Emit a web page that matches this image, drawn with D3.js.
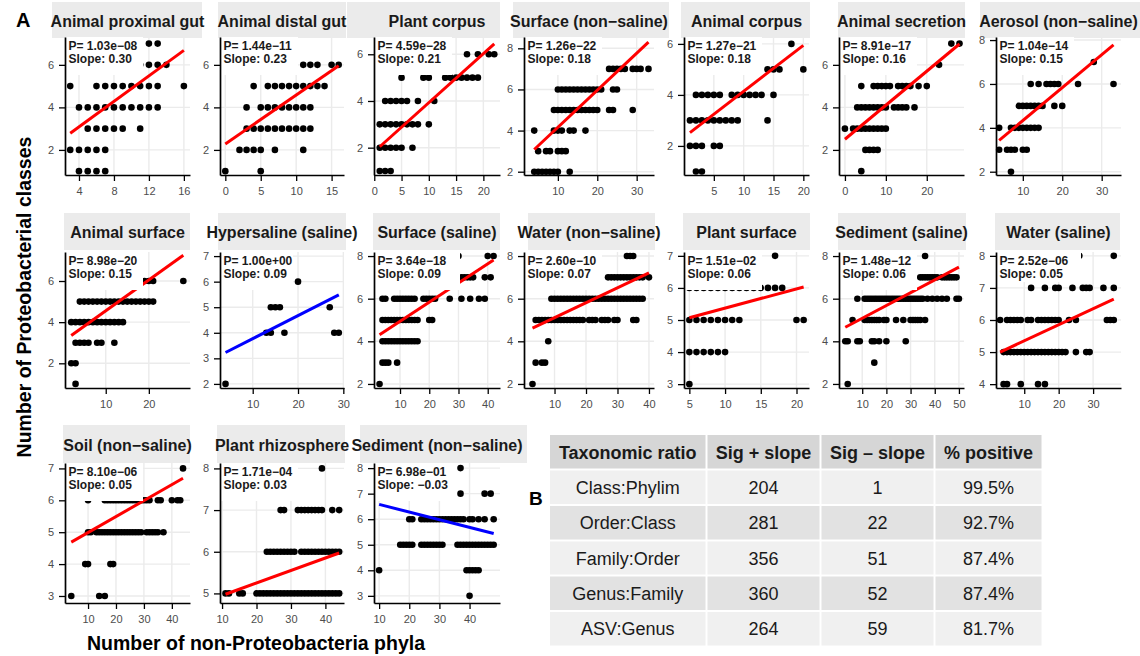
<!DOCTYPE html>
<html>
<head>
<meta charset="utf-8">
<script src="https://cdn.jsdelivr.net/npm/d3@7"></script>
<style>
  html, body { margin: 0; padding: 0; background: #fff; }
  svg { display: block; font-family: "Liberation Sans", Arial, Helvetica, sans-serif; }
</style>
</head>
<body>
<svg id="fig" width="1140" height="656"></svg>
<script>
// ---------- Panel A: one scatter per environment ----------
const panelNames = [
  "Animal proximal gut", "Animal distal gut", "Plant corpus", "Surface (non\u2212saline)",
  "Animal corpus", "Animal secretion", "Aerosol (non\u2212saline)",
  "Animal surface", "Hypersaline (saline)", "Surface (saline)", "Water (non\u2212saline)",
  "Plant surface", "Sediment (saline)", "Water (saline)",
  "Soil (non\u2212saline)", "Plant rhizosphere", "Sediment (non\u2212saline)"
];

const pValues = [
  "1.03e-08", "1.44e-11", "4.59e-28", "1.26e-22", "1.27e-21", "8.91e-17", "1.04e-14",
  "8.98e-20", "1.00e+00", "3.64e-18", "2.60e-10", "1.51e-02", "1.48e-12", "2.52e-06",
  "8.10e-06", "1.71e-04", "6.98e-01"
];

const slopes = [0.30, 0.23, 0.21, 0.18, 0.18, 0.16, 0.15,
                0.15, 0.09, 0.09, 0.07, 0.06, 0.06, 0.05,
                0.05, 0.03, -0.03];

// fitted value of the regression line at the smallest x of each panel
const lineStarts = [2.78, 2.28, 2.04, 3.08, 2.52, 2.50, 3.43,
                    3.35, 3.23, 4.31, 4.62, 5.07, 4.66, 5.00,
                    4.69, 4.98, 6.58];

// axis limits of each panel (the statistics label widens some of them)
const xLimits = [
  [2.4, 16.7], [-0.75, 16.75], [-0.05, 23.05], [1.4, 34.4], [0.0, 20.95], [-1.45, 29.1], [3.2, 34.9],
  [0.55, 29.55], [2.78, 30.15], [1.1, 44.2], [0.3, 41.6], [4.25, 21.75], [0.4, 52.1], [1.8, 38.1],
  [1.75, 46.5], [9.4, 45.4], [8.3, 50.1]
];
const yLimits = [
  [0.82, 7.31], [0.82, 7.31], [0.83, 6.74], [1.84, 8.55], [0.86, 6.27], [0.82, 7.31], [1.85, 8.14],
  [0.80, 7.41], [1.84, 7.16], [1.81, 8.19], [1.81, 8.19], [2.88, 7.12], [1.81, 8.19], [3.88, 8.12],
  [2.78, 7.17], [4.77, 8.13], [2.72, 8.20]
];

const xTicks = [
  [4, 8, 12, 16], [0, 5, 10, 15], [0, 5, 10, 15, 20], [10, 20, 30], [5, 10, 15, 20], [0, 10, 20], [10, 20, 30],
  [10, 20], [10, 20, 30], [10, 20, 30, 40], [10, 20, 30, 40], [5, 10, 15, 20], [10, 20, 30, 40, 50], [10, 20, 30],
  [10, 20, 30, 40], [10, 20, 30, 40], [10, 20, 30, 40]
];
const yTicks = [
  [2, 4, 6], [2, 4, 6], [2, 4, 6], [2, 4, 6, 8], [2, 4, 6], [2, 4, 6], [2, 4, 6, 8],
  [2, 4, 6], [2, 3, 4, 5, 6, 7], [2, 4, 6, 8], [2, 4, 6, 8], [3, 4, 5, 6, 7], [2, 4, 6, 8], [4, 5, 6, 7, 8],
  [3, 4, 5, 6, 7], [5, 6, 7, 8], [3, 4, 5, 6, 7, 8]
];

// observations: [number of Proteobacterial classes, [number of non-Proteobacteria phyla ...]]
const pointRows = [
  // Animal proximal gut
  [[7, [12, 13]], [6, [11, 12, 13, 14]], [5, [3, 6, 7, 8, 9, 10, 11, 12, 13, 16]],
   [4, [4, 5, 6, 7, 8, 9, 10, 11, 12, 13]], [3, [5, 6, 7, 8, 9, 11]], [2, [3, 4, 5, 6, 7]], [1, [4, 5, 6, 7]]],
  // Animal distal gut
  [[6, [11, 12, 13, 15, 16]], [5, [4, 6, 7, 8, 9, 10, 11, 12, 13, 14]], [4, [3, 5, 6, 7, 8, 9, 10, 11, 12]],
   [3, [3, 4, 5, 6, 7, 8, 9, 10, 11, 12]], [2, [2, 3, 4, 5, 7, 11]], [1, [0, 5]]],
  // Plant corpus
  [[6, [17, 19, 21, 22]], [5, [5, 9, 10, 13, 14, 15, 16, 17, 18, 19]], [4, [2, 3, 4, 5, 6, 8, 11]],
   [3, [1, 2, 3, 4, 5, 6, 7, 8, 10]], [2, [1, 2, 3, 4, 5, 7]], [1, [1, 2, 3]]],
  // Surface (non-saline)
  [[7, [23, 24, 25, 26, 27, 29, 30, 31, 33]], [6, [10, 11, 12, 13, 14, 15, 16, 17, 18, 19, 20, 21, 24, 25]],
   [5, [9, 10, 11, 12, 13, 14, 15, 16, 17, 18, 19, 20, 23, 24, 29]], [4, [4, 9, 10, 11, 13, 14, 17]],
   [3, [5, 7, 8, 10, 11, 12]], [2, [4, 5, 6, 7, 8, 9, 10, 13]]],
  // Animal corpus
  [[6, [18]], [5, [14, 15, 16, 20]], [4, [2, 3, 4, 5, 6, 8, 9, 10, 11, 12, 13, 15]],
   [3, [1, 2, 3, 4, 5, 6, 7, 8, 9, 14]], [2, [1, 2, 3, 5, 6]], [1, [2, 3]]],
  // Animal secretion
  [[7, [26, 28]], [6, [23]], [5, [4, 7, 8, 9, 10, 11, 13, 14, 15, 16, 18, 20]],
   [4, [3, 4, 5, 6, 7, 8, 9, 10, 12, 13, 14, 15, 17]], [3, [0, 2, 3, 4, 5, 6, 7, 8, 9, 10]],
   [2, [5, 6, 7, 8]], [1, [4]]],
  // Aerosol (non-saline)
  [[7, [28]], [6, [12, 14, 16, 17, 18, 19, 24, 33]], [5, [9, 10, 11, 12, 13, 14, 15, 18, 20]],
   [4, [4, 7, 8, 9, 10, 11, 12, 13, 14]], [3, [4, 6, 7, 8, 10, 11]], [2, [7]]],
  // Animal surface
  [[6, [19, 20, 21, 28]], [5, [4, 5, 6, 7, 8, 9, 10, 11, 12, 13, 14, 15, 16, 17, 18, 19, 20, 21]],
   [4, [2, 3, 4, 5, 6, 7, 8, 9, 10, 11, 12, 13, 14]], [3, [3, 4, 5, 6, 8, 9, 12]], [2, [2, 3]], [1, [3]]],
  // Hypersaline (saline)
  [[6, [20]], [5, [14, 15, 16, 27]], [4, [13, 14, 17, 28, 29]], [2, [4]]],
  // Surface (saline)
  [[8, [30, 40, 42]], [7, [28, 31, 32, 33, 34, 35, 39, 41]],
   [6, [4, 5, 8, 9, 10, 11, 12, 13, 14, 15, 18, 19, 20, 21, 22, 27, 31, 34, 37, 39]],
   [5, [4, 5, 6, 7, 8, 9, 10, 11, 12, 13, 14, 15, 16, 20, 21]],
   [4, [4, 5, 6, 7, 8, 9, 10, 11, 12, 13, 14, 15, 16]], [3, [4, 5, 6, 9]], [2, [3]]],
  // Water (non-saline)
  [[8, [33, 34, 35]], [7, [27, 28, 29, 30, 31, 32, 33, 34, 35, 36, 37, 38, 40]],
   [6, [9, 10, 11, 12, 13, 14, 15, 16, 17, 18, 19, 20, 21, 22, 23, 24, 25, 26, 27, 28, 29, 30, 31, 32, 33, 34, 35, 36, 37, 38]],
   [5, [4, 5, 6, 7, 8, 9, 10, 11, 12, 13, 14, 15, 16, 17, 18, 19, 21, 22, 23, 25, 26, 27, 29, 30, 35, 36]],
   [4, [8]], [3, [4, 6, 7]], [2, [3]]],
  // Plant surface
  [[7, [17]], [6, [5, 6, 7, 8, 9, 10, 11, 12, 13, 14, 15, 16, 17, 18]],
   [5, [5, 6, 7, 8, 9, 10, 11, 12, 20, 21]], [4, [5, 6, 7, 8, 9, 10]], [3, [5]]],
  // Sediment (saline)
  [[8, [36]], [7, [34, 35, 36, 37, 38, 39, 40, 41, 43, 44, 45, 46, 47, 48, 49]],
   [6, [8, 11, 12, 13, 14, 15, 16, 17, 18, 19, 20, 21, 22, 23, 24, 25, 26, 27, 28, 29, 30, 31, 32, 33, 34, 35, 37, 39, 41, 43, 45, 49, 50]],
   [5, [6, 11, 12, 13, 14, 15, 16, 17, 19, 20, 24, 27, 30, 31, 32, 33, 34, 36]],
   [4, [3, 4, 8, 9, 14, 15, 17, 20, 28]], [3, [15]], [2, [4]]],
  // Water (saline)
  [[8, [26, 36]], [7, [12, 16, 19, 20, 24, 27, 28, 29, 33, 36]],
   [6, [3, 5, 6, 7, 8, 9, 11, 12, 14, 15, 16, 17, 18, 19, 20, 23, 25, 34, 35, 36]],
   [5, [4, 5, 6, 7, 8, 9, 10, 11, 12, 13, 14, 15, 16, 17, 18, 19, 20, 21, 22, 25, 28, 29]],
   [4, [4, 5, 9, 14, 16]]],
  // Soil (non-saline)
  [[7, [44]], [6, [10, 16, 17, 18, 19, 20, 21, 22, 23, 24, 25, 26, 27, 28, 29, 30, 31, 32, 35, 36, 40, 42, 43]],
   [5, [10, 11, 13, 14, 15, 16, 17, 18, 19, 20, 21, 22, 23, 24, 25, 26, 27, 28, 29, 31, 32, 33, 34, 35, 37]],
   [4, [9, 10, 18, 19]], [3, [4, 14, 16]]],
  // Plant rhizosphere
  [[8, [39]], [7, [27, 28, 32, 33, 34, 35, 36, 37, 38, 39, 42, 44]],
   [6, [23, 24, 25, 26, 27, 28, 29, 30, 31, 33, 34, 35, 36, 37, 38, 39, 40, 41, 42, 43, 44]],
   [5, [11, 12, 15, 16, 20, 21, 22, 23, 24, 25, 26, 27, 28, 29, 30, 31, 32, 33, 34, 35, 36, 37, 38, 39, 40, 41, 42, 43, 44]]],
  // Sediment (non-saline)
  [[8, [37]], [7, [37, 45, 47]],
   [6, [20, 21, 24, 25, 26, 27, 28, 29, 30, 31, 32, 33, 34, 35, 36, 37, 38, 40, 41, 43, 45, 48]],
   [5, [17, 18, 19, 20, 21, 24, 25, 26, 27, 28, 29, 30, 31, 36, 37, 38, 39, 40, 41, 42, 43, 44, 45, 46, 47, 48]],
   [4, [10, 39, 40, 41, 42, 43]], [3, [40]]]
];

// ---------- Panel B: summary table ----------
const tableHeader = ["Taxonomic ratio", "Sig + slope", "Sig \u2013 slope", "% positive"];
const taxonomicRatios = ["Class:Phylim", "Order:Class", "Family:Order", "Genus:Family", "ASV:Genus"];
const sigPositive = [204, 281, 356, 360, 264];
const sigNegative = [1, 22, 51, 52, 59];
const pctPositive = ["99.5%", "92.7%", "87.4%", "87.4%", "81.7%"];

// ---------- layout ----------
const colLeft  = [65, 220, 374, 524, 684, 839, 996];
const colRight = [190, 344, 500, 654, 809, 964, 1121];
const rowTop    = [37, 252, 463];
const rowBottom = [175, 388, 603];
const stripY = [[2, 38], [213, 250], [425, 463]];
const stripBaseline = [26.5, 237.5, 450.5];
const stripX = [[52, 202], [218, 346], [347, 500], [513, 669], [681, 810], [838, 965], [980, 1140],
                [64, 190], [218, 346], [373, 500], [528, 655], [683, 810], [838, 966], [995, 1120],
                [63, 190], [217, 345], [360, 527]];
// white backing of the statistics label: [width, height] per panel
const labelBox = [[77, 38], [77, 38], [77, 38], [77, 38], [77, 38], [77, 38], [77, 38],
                  [77, 38], [72, 38], [85, 38], [77, 38], [77, 38], [77, 38], [84, 30],
                  [77, 38], [77, 38], [82, 38]];

const svg = d3.select("#fig");
const minus = s => String(s).replace(/-/g, "\u2212");
const stripLayer = svg.append("g").attr("class", "strips");
const stripTextLayer = svg.append("g").attr("class", "strip-labels");

panelNames.forEach((name, i) => {
  const r = Math.floor(i / 7), c = i % 7;
  const x0 = colLeft[c], x1 = colRight[c], y0 = rowTop[r], y1 = rowBottom[r];
  const pts = pointRows[i].flatMap(([yv, xs]) => xs.map(xv => ({ x: xv, y: yv })));
  const xe = d3.extent(pts, d => d.x);
  const x = d3.scaleLinear().domain(xLimits[i]).range([x0, x1]);
  const y = d3.scaleLinear().domain(yLimits[i]).range([y1, y0]);
  const g = svg.append("g").attr("class", "panel");

  // facet strip
  stripLayer.append("rect")
    .attr("x", stripX[i][0]).attr("y", stripY[r][0])
    .attr("width", stripX[i][1] - stripX[i][0]).attr("height", stripY[r][1] - stripY[r][0])
    .attr("fill", "#ebebeb");
  stripTextLayer.append("text")
    .attr("x", (x0 + x1) / 2).attr("y", stripBaseline[r])
    .attr("text-anchor", "middle").attr("font-size", 16).attr("font-weight", "bold")
    .attr("fill", "#1a1a1a").text(name);

  // grid
  g.append("g").selectAll("line").data(xTicks[i]).join("line")
    .attr("x1", d => x(d)).attr("x2", d => x(d)).attr("y1", y0).attr("y2", y1)
    .attr("stroke", "#ebebeb").attr("stroke-width", 1.4);
  g.append("g").selectAll("line").data(yTicks[i]).join("line")
    .attr("y1", d => y(d)).attr("y2", d => y(d)).attr("x1", x0).attr("x2", x1)
    .attr("stroke", "#ebebeb").attr("stroke-width", 1.4);

  // observations
  g.append("g").selectAll("circle").data(pts).join("circle")
    .attr("cx", d => x(d.x)).attr("cy", d => y(d.y)).attr("r", 3.3).attr("fill", "#000");

  // linear fit
  const sig = +pValues[i] < 0.05;
  g.append("line")
    .attr("x1", x(xe[0])).attr("y1", y(lineStarts[i]))
    .attr("x2", x(xe[1])).attr("y2", y(lineStarts[i] + slopes[i] * (xe[1] - xe[0])))
    .attr("stroke", sig ? "#ff0000" : "#0000ff").attr("stroke-width", 3);

  // statistics label
  g.append("rect").attr("x", x0 + 1).attr("y", y0)
    .attr("width", labelBox[i][0]).attr("height", labelBox[i][1]).attr("fill", "#fff");
  const lab = g.append("text").attr("font-size", 12).attr("font-weight", "bold").attr("fill", "#1a1a1a");
  lab.append("tspan").attr("x", x0 + 3.5).attr("y", y0 + 12.5).text("P= " + minus(pValues[i]));
  lab.append("tspan").attr("x", x0 + 3.5).attr("y", y0 + 25.8).text("Slope: " + minus(d3.format(".2f")(slopes[i])));

  // axes
  const gx = g.append("g").attr("transform", `translate(0,${y1})`)
    .call(d3.axisBottom(x).tickValues(xTicks[i]).tickFormat(d3.format("d"))
      .tickSize(6).tickSizeOuter(0).tickPadding(6));
  const gy = g.append("g").attr("transform", `translate(${x0},0)`)
    .call(d3.axisLeft(y).tickValues(yTicks[i]).tickFormat(d3.format("d"))
      .tickSize(6).tickSizeOuter(0).tickPadding(5));
  [gx, gy].forEach(a => {
    a.select(".domain").attr("stroke", "#000").attr("stroke-width", 1.7);
    a.selectAll(".tick line").attr("stroke", "#000").attr("stroke-width", 1.3);
    a.selectAll(".tick text").attr("fill", "#4d4d4d").attr("font-size", 11)
      .attr("font-family", "'Liberation Sans', Arial, sans-serif");
  });
});
stripTextLayer.raise();

// shared axis titles and panel tags
svg.append("text")
  .attr("transform", "translate(31,297) rotate(-90)")
  .attr("text-anchor", "middle").attr("font-size", 19.5).attr("font-weight", "bold").attr("fill", "#000")
  .text("Number of Proteobacterial classes");
svg.append("text")
  .attr("x", 256).attr("y", 650)
  .attr("text-anchor", "middle").attr("font-size", 19.5).attr("font-weight", "bold").attr("fill", "#000")
  .text("Number of non-Proteobacteria phyla");
svg.append("text").attr("x", 16).attr("y", 27).attr("font-size", 20).attr("font-weight", "bold").text("A");
svg.append("text").attr("x", 529).attr("y", 505).attr("font-size", 19).attr("font-weight", "bold").text("B");

// ---------- table ----------
const colBounds = [549, 706.5, 820.5, 934.5, 1042.5];
const rowBounds = [434, 469.5, 505, 540.5, 575.5, 611, 646.5];
const tableRows = taxonomicRatios.map((t, k) => [t, sigPositive[k], sigNegative[k], pctPositive[k]]);
const tbl = svg.append("g").attr("class", "table");

tableHeader.forEach((h, j) => {
  tbl.append("rect")
    .attr("x", colBounds[j] + 1).attr("y", rowBounds[0] + 1)
    .attr("width", colBounds[j + 1] - colBounds[j] - 2).attr("height", rowBounds[1] - rowBounds[0] - 2)
    .attr("fill", "#d6d6d6");
  tbl.append("text")
    .attr("x", (colBounds[j] + colBounds[j + 1]) / 2).attr("y", (rowBounds[0] + rowBounds[1]) / 2 + 7)
    .attr("text-anchor", "middle").attr("font-size", 18).attr("font-weight", "bold").attr("fill", "#1a1a1a")
    .text(h);
});
tableRows.forEach((row, k) => {
  row.forEach((v, j) => {
    tbl.append("rect")
      .attr("x", colBounds[j] + 1).attr("y", rowBounds[k + 1] + 1)
      .attr("width", colBounds[j + 1] - colBounds[j] - 2).attr("height", rowBounds[k + 2] - rowBounds[k + 1] - 2)
      .attr("fill", k % 2 === 0 ? "#f0f0f0" : "#e2e2e2");
    tbl.append("text")
      .attr("x", (colBounds[j] + colBounds[j + 1]) / 2).attr("y", (rowBounds[k + 1] + rowBounds[k + 2]) / 2 + 6.5)
      .attr("text-anchor", "middle").attr("font-size", 18).attr("fill", "#1a1a1a")
      .text(v);
  });
});
</script>
</body>
</html>
